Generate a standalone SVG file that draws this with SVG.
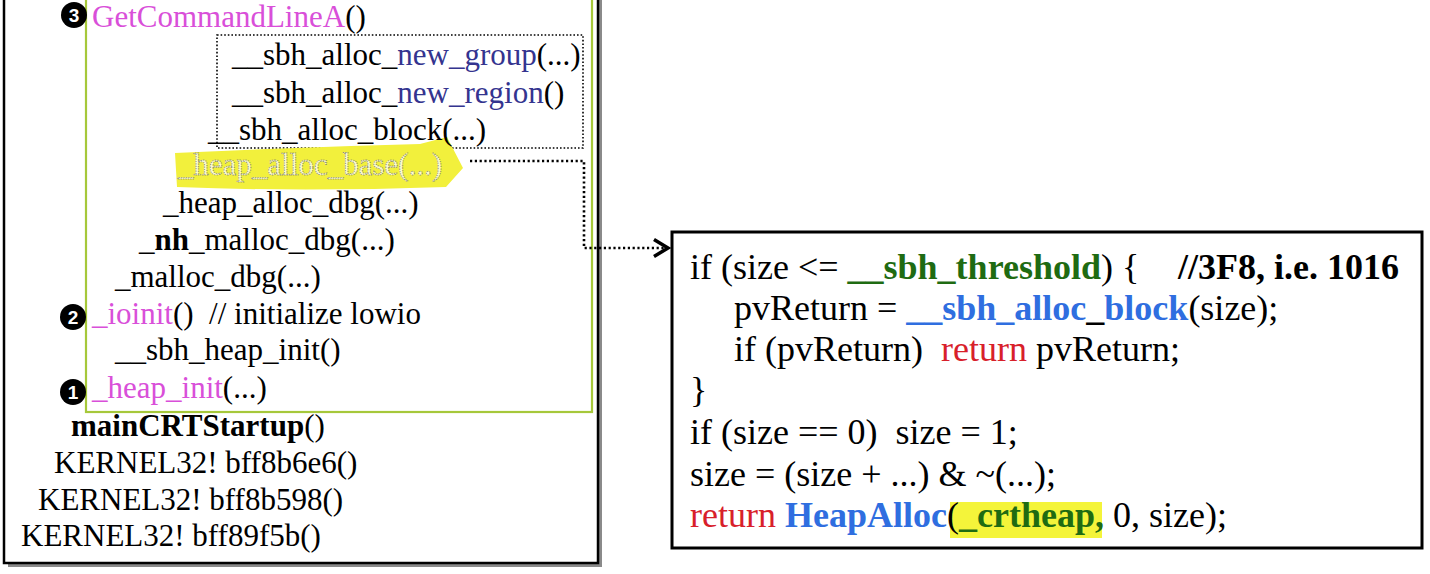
<svg xmlns="http://www.w3.org/2000/svg" width="1430" height="574" viewBox="0 0 1430 574">
<defs>
<style>
text { font-family: "Liberation Serif", "Times New Roman", serif; white-space: pre; }
.l { font-size: 31px; fill: #000; }
.r { font-size: 36px; fill: #000; }
.mag { fill: #d94fd9; }
.nv { fill: #34348f; }
.b { font-weight: bold; }
.grn { fill: #1f6b12; font-weight: bold; }
.blu { fill: #2f6ee0; font-weight: bold; }
.red { fill: #d8202a; }
.num { font-family: "Liberation Sans", Arial, sans-serif; font-size: 19px; font-weight: bold; fill: #fff; text-anchor: middle; }
.ghost { fill: #fbfbd0; stroke: #86866a; stroke-width: 0.9; stroke-dasharray: 1.2 1.2; }
.dot { fill: #000; }
.conn { fill: none; stroke: #000; stroke-width: 2.6; stroke-dasharray: 2.2 2.6; }
</style>
<marker id="chev" markerUnits="userSpaceOnUse" markerWidth="22" markerHeight="22" refX="17" refY="10" orient="auto" viewBox="0 0 22 20">
<path d="M3,1.5 L17,10 L3,18.5" fill="none" stroke="#000" stroke-width="3.5"/>
</marker>
</defs>

<g id="stack-frame">
<rect x="8" y="-10" width="594" height="577" fill="#8a8a8a"/>
<rect x="4" y="-14" width="594" height="577" fill="#fff" stroke="#000" stroke-width="2.5"/>
</g>

<g id="init-box">
<rect x="86" y="-10" width="506" height="422" fill="none" stroke="#a6c83a" stroke-width="2.2"/>
</g>

<g id="sbh-box">
<rect x="217" y="35" width="366" height="113" fill="none" stroke="#000" stroke-width="1.6" stroke-dasharray="1.6 2"/>
</g>

<g id="heap-alloc-base">
<path d="M175,153 Q300,147 420,144 L447,137 L463,168 L446,187 Q300,192 177,187 Z" fill="#f2f03c"/>
<text class="l ghost" x="178" y="175">_heap_alloc_base(...)</text>
</g>

<g id="n-getcommandline">
<circle cx="74" cy="15" r="13" class="dot"/>
<text class="num" x="74" y="22">3</text>
<text class="l" x="92" y="27"><tspan class="mag">GetCommandLineA</tspan>()</text>
</g>
<g id="n-new-group"><text class="l" x="232" y="65">__sbh_alloc_<tspan class="nv">new_group</tspan>(...)</text></g>
<g id="n-new-region"><text class="l" x="232" y="103">__sbh_alloc_<tspan class="nv">new_region</tspan>()</text></g>
<g id="n-alloc-block"><text class="l" x="208" y="140">__sbh_alloc_block(...)</text></g>
<g id="n-heap-alloc-dbg"><text class="l" x="163" y="213">_heap_alloc_dbg(...)</text></g>
<g id="n-nh-malloc-dbg"><text class="l" x="139" y="250">_<tspan class="b">nh</tspan>_malloc_dbg(...)</text></g>
<g id="n-malloc-dbg"><text class="l" x="115" y="287">_malloc_dbg(...)</text></g>
<g id="n-ioinit">
<circle cx="73" cy="317" r="13" class="dot"/>
<text class="num" x="73" y="324">2</text>
<text class="l" x="92" y="324"><tspan class="mag">_ioinit</tspan>()  // initialize lowio</text>
</g>
<g id="n-sbh-heap-init"><text class="l" x="115" y="360">__sbh_heap_init()</text></g>
<g id="n-heap-init">
<circle cx="73" cy="392" r="13" class="dot"/>
<text class="num" x="73" y="399">1</text>
<text class="l" x="92" y="398"><tspan class="mag">_heap_init</tspan>(...)</text>
</g>
<g id="n-maincrt"><text class="l" x="71" y="436"><tspan class="b">mainCRTStartup</tspan>()</text></g>
<g id="n-k1"><text class="l" x="54" y="473">KERNEL32! bff8b6e6()</text></g>
<g id="n-k2"><text class="l" x="38" y="510">KERNEL32! bff8b598()</text></g>
<g id="n-k3"><text class="l" x="21" y="546">KERNEL32! bff89f5b()</text></g>

<g id="connectors">
<path class="conn" d="M470,161 H584 V248 H668" marker-end="url(#chev)"/>
</g>

<g id="code-box">
<rect x="672" y="232" width="750" height="316" fill="#fff" stroke="#000" stroke-width="3"/>
<rect x="950" y="502" width="152" height="36" fill="#f4f43a"/>
<text class="r" x="690" y="279">if (size &lt;= <tspan class="grn">__sbh_threshold</tspan>) {</text>
<text class="r b" x="1178" y="279">//3F8, i.e. 1016</text>
<text class="r" x="734" y="320">pvReturn = <tspan class="blu">__sbh_alloc</tspan><tspan class="b">_</tspan><tspan class="blu">block</tspan>(size);</text>
<text class="r" x="734" y="361">if (pvReturn)  <tspan class="red">return</tspan> pvReturn;</text>
<text class="r" x="690" y="402">}</text>
<text class="r" x="690" y="444">if (size == 0)  size = 1;</text>
<text class="r" x="690" y="486">size = (size + ...) &amp; ~(...);</text>
<text class="r" x="690" y="527"><tspan class="red">return</tspan> <tspan class="blu">HeapAlloc</tspan>(<tspan class="grn">_crtheap,</tspan> 0, size);</text>
</g>
</svg>
